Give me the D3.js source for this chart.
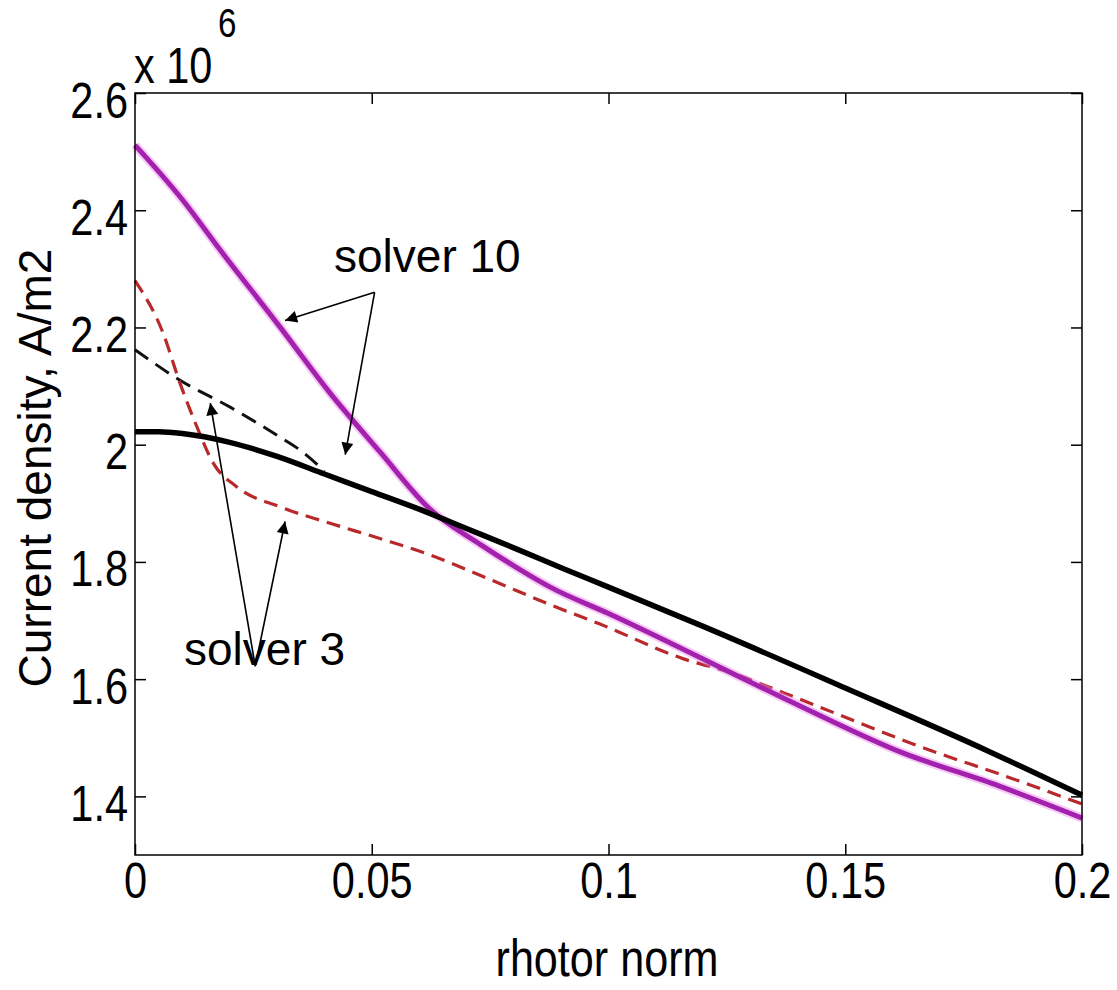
<!DOCTYPE html>
<html><head><meta charset="utf-8">
<script src="https://cdn.jsdelivr.net/npm/d3@7"></script>
<style>body{margin:0;background:#fff}</style>
</head><body><svg id="c" width="1117" height="990"></svg>
<script>
// ---- data (values in units of 10^6 A/m2) ----
const xTicks = [0, 0.05, 0.1, 0.15, 0.2];
const xTickLabels = ["0", "0.05", "0.1", "0.15", "0.2"];
const yTicks = [1.4, 1.6, 1.8, 2.0, 2.2, 2.4, 2.6];
const yTickLabels = ["1.4", "1.6", "1.8", "2", "2.2", "2.4", "2.6"];

const magentaX = [0, 0.0101, 0.018, 0.0306, 0.0412, 0.0517, 0.0623, 0.0729, 0.0813, 0.0877, 0.1, 0.1369, 0.1616, 0.1827, 0.2];
const magentaY = [2.511, 2.417, 2.332, 2.201, 2.088, 1.988, 1.890, 1.830, 1.787, 1.757, 1.712, 1.568, 1.476, 1.417, 1.363];

const blackX = [0, 0.005, 0.01, 0.02, 0.03, 0.04, 0.05, 0.06, 0.07, 0.08, 0.09, 0.1, 0.12, 0.15, 0.18, 0.2];
const blackY = [2.022, 2.022, 2.019, 2.004, 1.980, 1.950, 1.920, 1.890, 1.857, 1.824, 1.790, 1.757, 1.690, 1.585, 1.478, 1.402];

const blackDashX = [0, 0.0095, 0.0201, 0.0306, 0.035, 0.04];
const blackDashY = [2.162, 2.110, 2.064, 2.013, 1.990, 1.955];

const redDashX = [0, 0.0059, 0.0095, 0.0131, 0.0165, 0.0215, 0.0306, 0.0412, 0.0517, 0.0623, 0.075, 0.0883, 0.0982, 0.1157, 0.1263, 0.1369, 0.1706, 0.1812, 0.2];
const redDashY = [2.280, 2.191, 2.105, 2.030, 1.969, 1.928, 1.894, 1.866, 1.840, 1.812, 1.770, 1.725, 1.694, 1.635, 1.610, 1.577, 1.471, 1.442, 1.387];

// annotations: label text and arrow endpoints in data units
const annLabels = ["solver 10", "solver 3"];
const ann10From = [0.0506, 2.260];
const ann10To = [[0.0317, 2.212], [0.0444, 1.983]];
const ann3From = [0.0254, 1.622];
const ann3To = [[0.0159, 2.071], [0.0317, 1.869]];

// ---- layout ----
const svg = d3.select("#c");
const x = d3.scaleLinear().domain([0, 0.2]).range([135, 1082]);
const y = d3.scaleLinear().domain([1.3, 2.6]).range([855, 93]);
const narrow = "'Liberation Sans Narrow','Arial Narrow','Liberation Sans',Arial,sans-serif";
const sans = "'Liberation Sans',Arial,Helvetica,sans-serif";
const K = 0.83; // horizontal condensing for the MATLAB-style labels

function condense(sel, k) {
  sel.each(function () {
    const t = d3.select(this);
    const tx = +t.attr("x") || 0, ty = +t.attr("y") || 0;
    t.attr("x", 0).attr("y", 0).attr("transform", `translate(${tx},${ty}) scale(${k},1)`);
  });
}

const zip = (a, b) => a.map((v, i) => [v, b[i]]);
const line = d3.line().x(d => x(d[0])).y(d => y(d[1])).curve(d3.curveMonotoneX);

const plot = svg.append("g");
plot.append("path").attr("d", line(zip(blackDashX, blackDashY)))
  .attr("fill", "none").attr("stroke", "#111").attr("stroke-width", 3).attr("stroke-dasharray", "16,9");
plot.append("path").attr("d", line(zip(redDashX, redDashY)))
  .attr("fill", "none").attr("stroke", "#b8292b").attr("stroke-width", 3.2).attr("stroke-dasharray", "14,8");
plot.append("path").attr("d", line(zip(magentaX, magentaY)))
  .attr("fill", "none").attr("stroke", "#ee88ee").attr("stroke-opacity", 0.45).attr("stroke-width", 9);
plot.append("path").attr("d", line(zip(magentaX, magentaY)))
  .attr("fill", "none").attr("stroke", "#a322ad").attr("stroke-width", 5);
plot.append("path").attr("d", line(zip(blackX, blackY)))
  .attr("fill", "none").attr("stroke", "#000").attr("stroke-width", 5.5);

// axes box
svg.append("rect").attr("x", x(0)).attr("y", y(2.6)).attr("width", x(0.2) - x(0)).attr("height", y(1.3) - y(2.6))
  .attr("fill", "none").attr("stroke", "#000").attr("stroke-width", 1.5);

const bottomAxis = d3.axisBottom(x).tickValues(xTicks).tickSize(-11).tickFormat((d, i) => xTickLabels[i]);
const gb = svg.append("g").attr("transform", `translate(0,${y(1.3)})`).call(bottomAxis);
const topAxis = d3.axisTop(x).tickValues(xTicks).tickSize(-11).tickFormat("");
svg.append("g").attr("transform", `translate(0,${y(2.6)})`).call(topAxis);
const leftAxis = d3.axisLeft(y).tickValues(yTicks).tickSize(-11).tickFormat((d, i) => yTickLabels[i]);
const gl = svg.append("g").attr("transform", `translate(${x(0)},0)`).call(leftAxis);
const rightAxis = d3.axisRight(y).tickValues(yTicks).tickSize(-11).tickFormat("");
svg.append("g").attr("transform", `translate(${x(0.2)},0)`).call(rightAxis);
svg.selectAll(".domain").remove();
svg.selectAll(".tick line").attr("stroke", "#000").attr("stroke-width", 1.5);

gb.selectAll(".tick text").attr("font-family", narrow).attr("font-size", 50).attr("fill", "#000")
  .attr("dy", null).attr("x", 0).attr("y", 43).call(condense, K);
gl.selectAll(".tick text").attr("font-family", narrow).attr("font-size", 50).attr("fill", "#000")
  .attr("dy", null).attr("x", -7).attr("y", 24).call(condense, K);

// exponent
svg.append("text").attr("x", 134).attr("y", 83).attr("font-family", narrow).attr("font-size", 50).text("x 10").call(condense, K);
svg.append("text").attr("x", 218).attr("y", 37).attr("font-family", narrow).attr("font-size", 40).text("6").call(condense, K);

// axis labels
svg.append("text").attr("x", 607).attr("y", 976).attr("text-anchor", "middle")
  .attr("font-family", narrow).attr("font-size", 52).text("rhotor norm").call(condense, K);
svg.append("text").attr("transform", "translate(51,468) rotate(-90)").attr("text-anchor", "middle")
  .attr("font-family", sans).attr("font-size", 46).text("Current density, A/m2");

// annotations
const defs = svg.append("defs");
defs.append("marker").attr("id", "ah").attr("viewBox", "0 0 10 10").attr("refX", 10).attr("refY", 5)
  .attr("markerWidth", 17).attr("markerHeight", 12).attr("markerUnits", "userSpaceOnUse").attr("orient", "auto")
  .append("path").attr("d", "M0,0 L10,5 L0,10 z").attr("fill", "#000");

function arrows(from, tos) {
  tos.forEach(t => {
    svg.append("line").attr("x1", x(from[0])).attr("y1", y(from[1])).attr("x2", x(t[0])).attr("y2", y(t[1]))
      .attr("stroke", "#000").attr("stroke-width", 1.6).attr("marker-end", "url(#ah)");
  });
}
arrows(ann10From, ann10To);
arrows(ann3From, ann3To);
svg.append("text").attr("x", 334).attr("y", 272).attr("font-family", sans).attr("font-size", 46).text(annLabels[0]);
svg.append("text").attr("x", 184).attr("y", 665).attr("font-family", sans).attr("font-size", 46).text(annLabels[1]);
</script></body></html>
